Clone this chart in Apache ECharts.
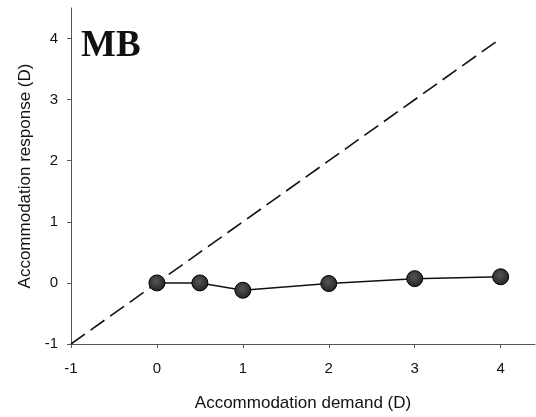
<!DOCTYPE html>
<html>
<head>
<meta charset="utf-8">
<script src="https://cdn.jsdelivr.net/npm/echarts@6/dist/echarts.min.js"></script>
<style>
  html, body { margin: 0; padding: 0; background: #fff; }
  #chart { width: 536px; height: 417px; }
</style>
</head>
<body>
<div id="chart"></div>
<script>
// Accommodation demand (D) vs measured response (D), subject MB
var demand = [0, 0.5, 1, 2, 3, 4];
var response = [0, 0, -0.12, -0.01, 0.07, 0.1];
// Unity line: response equals demand
var unityX = [-1, 4];
var unityY = [-1, 4];
var xTicks = [-1, 0, 1, 2, 3, 4];
var yTicks = [-1, 0, 1, 2, 3, 4];
var panelLabel = 'MB';

var sans = '"Liberation Sans", Arial, sans-serif';
var axisGrey = '#555';

var chart = echarts.init(document.getElementById('chart'), null, { renderer: 'canvas' });

chart.setOption({
  backgroundColor: '#fff',
  animation: false,
  grid: { left: 71, top: 8, width: 464, height: 342, containLabel: false },
  xAxis: {
    type: 'value',
    min: -1, max: 4.4,
    name: 'Accommodation demand (D)',
    nameLocation: 'middle',
    nameGap: 51,
    nameTextStyle: { fontFamily: sans, fontSize: 17, color: '#111' },
    axisLine: { show: true, onZero: false, lineStyle: { color: axisGrey, width: 1 } },
    axisTick: { show: true, inside: false, length: 4, customValues: xTicks, lineStyle: { color: axisGrey } },
    axisLabel: { customValues: xTicks, margin: 17, fontFamily: sans, fontSize: 15, color: '#111' },
    splitLine: { show: false }
  },
  yAxis: {
    type: 'value',
    min: -1, max: 4.5,
    name: 'Accommodation response (D)',
    nameLocation: 'middle',
    nameGap: 37,
    nameRotate: 90,
    nameTextStyle: { fontFamily: sans, fontSize: 17, color: '#111' },
    axisLine: { show: true, onZero: false, lineStyle: { color: axisGrey, width: 1 } },
    axisTick: { show: true, inside: false, length: 4, customValues: yTicks, lineStyle: { color: axisGrey } },
    axisLabel: { customValues: yTicks, margin: 13, fontFamily: sans, fontSize: 15, color: '#111' },
    splitLine: { show: false }
  },
  graphic: [{
    type: 'text',
    left: 81,
    top: 28,
    style: {
      text: panelLabel,
      font: 'bold 37px "Liberation Serif", "Times New Roman", serif',
      fill: '#111'
    }
  }],
  series: [
    {
      type: 'line',
      data: unityX.map(function (x, i) { return [x, unityY[i]]; }),
      symbol: 'none',
      lineStyle: { color: '#111', width: 1.6, type: [17, 7] },
      z: 2
    },
    {
      type: 'line',
      data: demand.map(function (x, i) { return [x, response[i]]; }),
      symbol: 'circle',
      symbolSize: 16,
      lineStyle: { color: '#111', width: 1.5 },
      itemStyle: {
        color: new echarts.graphic.RadialGradient(0.45, 0.4, 0.6, [
          { offset: 0, color: '#555' },
          { offset: 1, color: '#222' }
        ]),
        borderColor: '#000',
        borderWidth: 1
      },
      z: 3
    }
  ]
});
</script>
</body>
</html>
